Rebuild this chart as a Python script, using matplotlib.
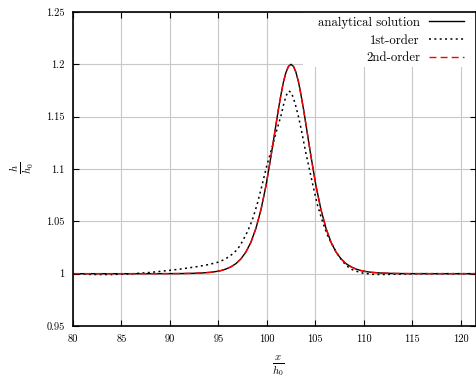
import matplotlib
matplotlib.use("Agg")
import matplotlib.pyplot as plt
from matplotlib.patches import Rectangle

plt.rcParams['font.family'] = 'cmr10'
plt.rcParams['mathtext.fontset'] = 'cm'
plt.rcParams['axes.formatter.use_mathtext'] = True
plt.rcParams['font.size'] = 7.5

# analytical solution
x_an = [80, 86, 88, 90.1, 91.13, 92.16, 93.2, 94.23, 94.75, 95.26, 95.78, 96.3, 96.82, 97.33,
        97.85, 98.37, 98.88, 99.4, 99.92, 100.43, 100.69, 100.95, 101.21, 101.47, 101.72,
        101.98, 102.24, 102.5, 102.76, 103.02, 103.28, 103.53, 103.79, 104.05, 104.31, 104.57,
        105.08, 105.6, 106.12, 106.63, 107.15, 107.67, 108.18, 108.7, 109.22, 109.74, 110.25,
        110.77, 111.8, 112.84, 113.87, 114.9, 117, 122]
h_an = [1.0, 1.0, 1.00001, 1.00005, 1.00012, 1.00027, 1.0006, 1.0013, 1.0020, 1.0029, 1.0044,
        1.0065, 1.0096, 1.0141, 1.0207, 1.0301, 1.0432, 1.061, 1.084, 1.1118, 1.1269, 1.1423,
        1.1573, 1.1711, 1.1830, 1.1922, 1.1980, 1.2, 1.1980, 1.1922, 1.1830, 1.1711, 1.1573,
        1.1423, 1.1269, 1.1118, 1.084, 1.061, 1.0432, 1.0301, 1.0207, 1.0141, 1.0096, 1.0065,
        1.0044, 1.0029, 1.0020, 1.0013, 1.0006, 1.00027, 1.00012, 1.00005, 1.00001, 1.0]

# 1st-order
x_1 = [80, 82, 84, 86, 88, 90, 91, 92, 93, 94, 95, 95.5, 96, 96.5, 97, 97.5, 98, 98.5, 99, 99.5,
       100, 100.5, 101, 101.5, 101.75, 102, 102.25, 102.5, 102.75, 103, 103.3, 103.6, 104,
       104.4, 104.8, 105.25, 105.75, 106.25, 106.9, 107.5, 108, 108.5, 109, 110, 111, 112, 114,
       116, 122]
h_1 = [1.0, 0.9992, 0.9992, 0.9998, 1.0012, 1.0032, 1.0043, 1.0056, 1.007, 1.0087, 1.011, 1.013,
       1.0156, 1.019, 1.0235, 1.031, 1.040, 1.051, 1.066, 1.084, 1.103, 1.119, 1.136, 1.152,
       1.162, 1.170, 1.1745, 1.1735, 1.168, 1.160, 1.149, 1.136, 1.117, 1.100, 1.083, 1.065,
       1.050, 1.037, 1.025, 1.016, 1.010, 1.0055, 1.003, 1.0003, 0.9993, 0.9992, 0.9996, 1.0,
       1.0]

# 2nd-order
x_2 = x_an
h_2 = [1.0, 1.0, 1.00001, 1.00005, 1.00012, 1.00027, 1.0006, 1.0013, 1.0020, 1.0029, 1.0044,
       1.0065, 1.0096, 1.0141, 1.0207, 1.0301, 1.0432, 1.061, 1.084, 1.1118, 1.1269, 1.1423,
       1.1573, 1.1711, 1.1830, 1.1922, 1.1981, 1.2002, 1.1982, 1.1924, 1.1831, 1.1711, 1.1573,
       1.1423, 1.1269, 1.1118, 1.084, 1.061, 1.0432, 1.0301, 1.0207, 1.0141, 1.0096, 1.0065,
       1.0044, 1.0029, 1.0020, 1.0013, 1.0006, 1.00027, 1.00012, 1.00005, 1.00001, 1.0]

xticks = [80, 85, 90, 95, 100, 105, 110, 115, 120]
yticks = [0.95, 1.0, 1.05, 1.1, 1.15, 1.2, 1.25]
ytick_labels = ['0.95', '1', '1.05', '1.1', '1.15', '1.2', '1.25']

W, H = 477, 383
fig = plt.figure(figsize=(W / 100, H / 100), dpi=100)
L, R, T, B = 73, 476, 12, 326
ax = fig.add_axes([L / W, 1 - B / H, (R - L) / W, (B - T) / H])

ax.plot(x_an, h_an, color='black', lw=1.0, label='analytical solution', zorder=2)
ax.plot(x_1, h_1, color='black', lw=1.1, linestyle=(0, (1.3, 2.2)), label='1st-order', zorder=2.1)
ax.plot(x_2, h_2, color='#ff0000', lw=1.0, linestyle=(0, (5, 3)), label='2nd-order', zorder=2.2)

ax.set_xlim(80, 121.6)
ax.set_ylim(0.95, 1.25)
ax.set_xticks(xticks)
ax.set_xticklabels([str(t) for t in xticks])
ax.set_yticks(yticks)
ax.set_yticklabels(ytick_labels)
ax.grid(True, color='#c8c8c8', lw=0.8)
ax.set_axisbelow(True)
ax.tick_params(direction='in', top=True, right=True, length=4, width=0.8, pad=6)
for s in ax.spines.values():
    s.set_linewidth(1.2)

# opaque key area
ax.add_patch(Rectangle(((303 - L) / (R - L), (B - 67) / (B - T)), 1.0, 1.0,
                       transform=ax.transAxes, facecolor='white', edgecolor='none', zorder=1))

fig.text(278 / W, 1 - 367 / H, r'$\frac{x}{h_0}$', fontsize=11, ha='center', va='center')
fig.text(22 / W, 1 - 168 / H, r'$\frac{h}{h_0}$', fontsize=11, ha='center', va='center', rotation=90)

leg = ax.legend(loc='upper right', bbox_to_anchor=((464 - L) / (R - L), (B - 16.5) / (B - T)),
                markerfirst=False, frameon=False, borderaxespad=0.0, borderpad=0.0,
                fontsize=9.2, handlelength=2.7, labelspacing=0.45, handletextpad=0.75)

fig.savefig('out.png', dpi=100)
